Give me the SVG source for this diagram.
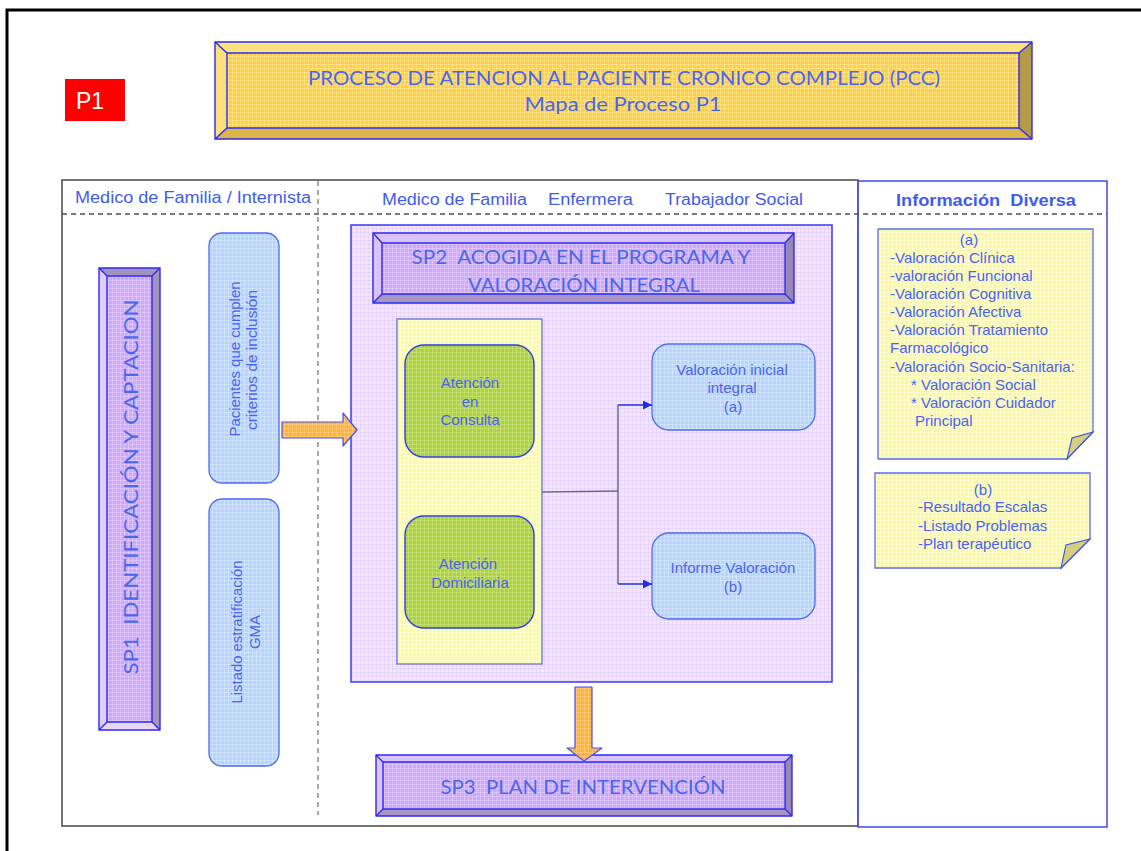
<svg xmlns="http://www.w3.org/2000/svg" width="1141" height="851" viewBox="0 0 1141 851">
  <defs>
    <!-- fine grid texture used on filled shapes -->
    <pattern id="gGold" width="4" height="4" patternUnits="userSpaceOnUse">
      <rect width="4" height="4" fill="#FFCF45"/>
      <path d="M0 0.5H4M0.5 0V4" stroke="#FFF2B0" stroke-opacity="0.45" stroke-width="1"/>
    </pattern>
    <pattern id="gLav" width="4" height="4" patternUnits="userSpaceOnUse">
      <rect width="4" height="4" fill="#F3E6FF"/>
      <path d="M0 0.5H4M0.5 0V4" stroke="#E2CCFA" stroke-opacity="0.6" stroke-width="1"/>
    </pattern>
    <pattern id="gPurple" width="4" height="4" patternUnits="userSpaceOnUse">
      <rect width="4" height="4" fill="#CFA8F8"/>
      <path d="M0 0.5H4M0.5 0V4" stroke="#E6D2FC" stroke-opacity="0.55" stroke-width="1"/>
    </pattern>
    <pattern id="gBlue" width="4" height="4" patternUnits="userSpaceOnUse">
      <rect width="4" height="4" fill="#B5D5FF"/>
      <path d="M0 0.5H4M0.5 0V4" stroke="#DCEBFF" stroke-opacity="0.55" stroke-width="1"/>
    </pattern>
    <pattern id="gGreen" width="4" height="4" patternUnits="userSpaceOnUse">
      <rect width="4" height="4" fill="#AED33E"/>
      <path d="M0 0.5H4M0.5 0V4" stroke="#D2E890" stroke-opacity="0.5" stroke-width="1"/>
    </pattern>
    <pattern id="gYellow" width="4" height="4" patternUnits="userSpaceOnUse">
      <rect width="4" height="4" fill="#FAFAA8"/>
      <path d="M0 0.5H4M0.5 0V4" stroke="#FFFFD8" stroke-opacity="0.6" stroke-width="1"/>
    </pattern>
    <pattern id="gNote" width="4" height="4" patternUnits="userSpaceOnUse">
      <rect width="4" height="4" fill="#FBF7A6"/>
      <path d="M0 0.5H4M0.5 0V4" stroke="#FFFFDA" stroke-opacity="0.6" stroke-width="1"/>
    </pattern>
    <pattern id="gOrange" width="4" height="4" patternUnits="userSpaceOnUse">
      <rect width="4" height="4" fill="#FFB13D"/>
      <path d="M0 0.5H4M0.5 0V4" stroke="#FFD690" stroke-opacity="0.5" stroke-width="1"/>
    </pattern>
    <marker id="arr" viewBox="0 0 10 10" refX="10" refY="5" markerWidth="9" markerHeight="9" markerUnits="userSpaceOnUse" orient="auto">
      <path d="M0 0L10 5L0 10z" fill="#1E2EE8"/>
    </marker>
    <style>
      text { white-space: pre; }
      .bv { stroke: #2B2BF0; stroke-width: 1.4; stroke-linejoin: round; }
      .cal { font-family: Lato, "Open Sans", "Liberation Sans", sans-serif; fill: #4A66EE; }
      .ar { font-family: "Liberation Sans", Arial, sans-serif; fill: #4A64EE; font-size: 15px; }
      .hd { font-family: "Liberation Sans", Arial, sans-serif; fill: #3F5CF0; font-size: 16px; }
      .box { stroke: #4F6BEE; stroke-width: 1.3; }
      .note { stroke: #5C6FEA; stroke-width: 1.3; }
      .fold { fill: #D6CF7E; stroke: #3C4FE6; stroke-width: 1.1; }
    </style>
  </defs>

  <rect width="1141" height="851" fill="#FFFFFF"/>

  <!-- outer page frame -->
  <path d="M7 853V10H1143" fill="none" stroke="#000" stroke-width="3"/>

  <!-- P1 badge -->
  <g id="badge-p1">
    <rect x="65" y="79" width="60" height="42" fill="#FF0000"/>
    <text x="76" y="109" font-family="'Liberation Sans', Arial, sans-serif" font-size="23" fill="#FFFFFF">P1</text>
  </g>

  <!-- title banner -->
  <g id="title">
    <rect x="215" y="42" width="817" height="97" fill="url(#gGold)"/>
    <path d="M215 42H1032L1019 53H227z" fill="#FFE27F"/>
    <path d="M215 42L227 53V128L215 139z" fill="#FFDF7A"/>
    <path d="M1032 42V139L1019 128V53z" fill="#B59A48"/>
    <path d="M215 139L227 128H1019L1032 139z" fill="#DDB448"/>
    <rect x="215" y="42" width="817" height="97" fill="none" class="bv"/>
    <rect x="227" y="53" width="792" height="75" fill="none" class="bv"/>
    <path d="M215 42L227 53M1032 42L1019 53M215 139L227 128M1032 139L1019 128" class="bv"/>
    <text class="cal" x="624" y="85" font-size="19" text-anchor="middle" textLength="632" lengthAdjust="spacingAndGlyphs">PROCESO DE ATENCION AL PACIENTE CRONICO COMPLEJO (PCC)</text>
    <text class="cal" x="623" y="111" font-size="19" text-anchor="middle" textLength="197" lengthAdjust="spacingAndGlyphs">Mapa de Proceso P1</text>
  </g>

  <!-- swimlane frame -->
  <g id="lanes">
    <rect x="62" y="180" width="796" height="646" fill="none" stroke="#505050" stroke-width="1.6"/>
    <rect x="858" y="181" width="249" height="646" fill="none" stroke="#4A55F0" stroke-width="1.6"/>
    <path d="M62 214H1107" stroke="#505050" stroke-width="1.4" stroke-dasharray="5 4"/>
    <path d="M318 181V815" stroke="#A8A8A8" stroke-width="2" stroke-dasharray="5 4"/>
    <text class="hd" x="75" y="203" textLength="236" lengthAdjust="spacingAndGlyphs">Medico de Familia / Internista</text>
    <text class="hd" x="382" y="205" textLength="145" lengthAdjust="spacingAndGlyphs">Medico de Familia</text>
    <text class="hd" x="548" y="205" textLength="85" lengthAdjust="spacingAndGlyphs">Enfermera</text>
    <text class="hd" x="665" y="205" textLength="138" lengthAdjust="spacingAndGlyphs">Trabajador Social</text>
    <text class="hd" x="986" y="206" font-size="15" font-weight="bold" text-anchor="middle" textLength="180" lengthAdjust="spacingAndGlyphs">Información  Diversa</text>
  </g>

  <!-- SP1 vertical bar -->
  <g id="sp1">
    <rect x="99" y="268" width="61" height="462" fill="url(#gPurple)"/>
    <path d="M99 268H160L152 276H107z" fill="#A493BD"/>
    <path d="M160 268V730L152 722V276z" fill="#A493BD"/>
    <path d="M99 268L107 276V722L99 730z" fill="#E2CCFB"/>
    <path d="M99 730L107 722H152L160 730z" fill="#E8D6FC"/>
    <rect x="99" y="268" width="61" height="462" fill="none" class="bv"/>
    <rect x="107" y="276" width="45" height="446" fill="none" class="bv"/>
    <path d="M99 268L107 276M160 268L152 276M99 730L107 722M160 730L152 722" class="bv"/>
    <text class="cal" font-size="20" text-anchor="middle" textLength="375" lengthAdjust="spacingAndGlyphs" transform="translate(138 487) rotate(-90)">SP1  IDENTIFICACIÓN Y CAPTACION</text>
  </g>

  <!-- inclusion criteria -->
  <g id="criterios">
    <rect x="209" y="233" width="70" height="250" rx="13" fill="url(#gBlue)" class="box"/>
    <g class="ar" text-anchor="middle">
      <text transform="translate(240 359) rotate(-90)" textLength="155" lengthAdjust="spacingAndGlyphs">Pacientes que cumplen</text>
      <text transform="translate(257 360) rotate(-90)" textLength="140" lengthAdjust="spacingAndGlyphs">criterios de inclusión</text>
    </g>
  </g>

  <!-- GMA stratification list -->
  <g id="listado-gma">
    <rect x="209" y="499" width="70" height="267" rx="13" fill="url(#gBlue)" class="box"/>
    <g class="ar" text-anchor="middle">
      <text transform="translate(242 632) rotate(-90)" textLength="143" lengthAdjust="spacingAndGlyphs">Listado estratificación</text>
      <text transform="translate(260 632) rotate(-90)">GMA</text>
    </g>
  </g>

  <!-- SP2 container -->
  <g id="sp2">
    <rect x="351" y="225" width="481" height="457" fill="url(#gLav)" stroke="#3A3AF0" stroke-width="1.5"/>
    <rect x="373" y="233" width="421" height="70" fill="url(#gPurple)"/>
    <path d="M373 233H794L785 243H382z" fill="#DCC2FA"/>
    <path d="M373 233L382 243V294L373 303z" fill="#DCC2FA"/>
    <path d="M794 233V303L785 294V243z" fill="#9A86B6"/>
    <path d="M373 303L382 294H785L794 303z" fill="#A996C6"/>
    <rect x="373" y="233" width="421" height="70" fill="none" class="bv"/>
    <rect x="382" y="243" width="403" height="51" fill="none" class="bv"/>
    <path d="M373 233L382 243M794 233L785 243M373 303L382 294M794 303L785 294" class="bv"/>
    <text class="cal" x="581" y="264" font-size="20" text-anchor="middle" textLength="339" lengthAdjust="spacingAndGlyphs">SP2  ACOGIDA EN EL PROGRAMA Y</text>
    <text class="cal" x="584" y="292" font-size="20" text-anchor="middle" textLength="232" lengthAdjust="spacingAndGlyphs">VALORACIÓN INTEGRAL</text>
  </g>

  <!-- care settings panel -->
  <g id="panel-atencion">
    <rect x="397" y="319" width="145" height="345" fill="url(#gYellow)" stroke="#6272E8" stroke-width="1.3"/>
  </g>

  <g id="atencion-consulta">
    <rect x="405" y="345" width="129" height="112" rx="19" fill="url(#gGreen)" stroke="#2E3FE4" stroke-width="1.4"/>
    <g class="ar" text-anchor="middle">
      <text x="470" y="388">Atención</text>
      <text x="470" y="407">en</text>
      <text x="470" y="425">Consulta</text>
    </g>
  </g>

  <g id="atencion-domiciliaria">
    <rect x="405" y="516" width="129" height="112" rx="19" fill="url(#gGreen)" stroke="#2E3FE4" stroke-width="1.4"/>
    <g class="ar" text-anchor="middle">
      <text x="468" y="569">Atención</text>
      <text x="470" y="588">Domiciliaria</text>
    </g>
  </g>

  <g id="valoracion-inicial">
    <rect x="652" y="344" width="163" height="86" rx="17" fill="url(#gBlue)" class="box"/>
    <g class="ar" text-anchor="middle">
      <text x="732" y="375">Valoración inicial</text>
      <text x="732" y="393">integral</text>
      <text x="733" y="412">(a)</text>
    </g>
  </g>

  <g id="informe-valoracion">
    <rect x="652" y="533" width="163" height="86" rx="17" fill="url(#gBlue)" class="box"/>
    <g class="ar" text-anchor="middle">
      <text x="733" y="573">Informe Valoración</text>
      <text x="733" y="592">(b)</text>
    </g>
  </g>

  <!-- SP3 -->
  <g id="sp3">
    <rect x="376" y="755" width="416" height="61" fill="url(#gPurple)"/>
    <path d="M376 755H792L785 762H383z" fill="#DCC2FA"/>
    <path d="M376 755L383 762V809L376 816z" fill="#DCC2FA"/>
    <path d="M792 755V816L785 809V762z" fill="#9A86B6"/>
    <path d="M376 816L383 809H785L792 816z" fill="#A996C6"/>
    <rect x="376" y="755" width="416" height="61" fill="none" class="bv"/>
    <rect x="383" y="762" width="402" height="47" fill="none" class="bv"/>
    <path d="M376 755L383 762M792 755L785 762M376 816L383 809M792 816L785 809" class="bv"/>
    <text class="cal" x="583" y="794" font-size="20" text-anchor="middle" textLength="285" lengthAdjust="spacingAndGlyphs">SP3  PLAN DE INTERVENCIÓN</text>
  </g>

  <!-- information notes -->
  <g id="nota-a">
    <path d="M878 229H1093V432L1067 459H878z" fill="url(#gNote)" class="note"/>
    <path d="M1093 432L1072 438L1067 459z" class="fold"/>
    <g class="ar">
      <text x="969" y="245" text-anchor="middle">(a)</text>
      <text x="890" y="263">-Valoración Clínica</text>
      <text x="890" y="281">-valoración Funcional</text>
      <text x="890" y="299">-Valoración Cognitiva</text>
      <text x="890" y="317">-Valoración Afectiva</text>
      <text x="890" y="335">-Valoración Tratamiento</text>
      <text x="890" y="353">Farmacológico</text>
      <text x="890" y="372">-Valoración Socio-Sanitaria:</text>
      <text x="911" y="390">* Valoración Social</text>
      <text x="911" y="408">* Valoración Cuidador</text>
      <text x="915" y="426">Principal</text>
    </g>
  </g>

  <g id="nota-b">
    <path d="M875 473H1090V539L1061 568H875z" fill="url(#gNote)" class="note"/>
    <path d="M1090 539L1066 545L1061 568z" class="fold"/>
    <g class="ar">
      <text x="983" y="495" text-anchor="middle">(b)</text>
      <text x="918" y="512">-Resultado Escalas</text>
      <text x="918" y="531">-Listado Problemas</text>
      <text x="918" y="549">-Plan terapéutico</text>
    </g>
  </g>

  <!-- connectors -->
  <g id="connectors">
    <path d="M282 422H343V413L357 430L343 446V438H282z" fill="url(#gOrange)" stroke="#4A50E8" stroke-width="1.2" stroke-linejoin="round"/>
    <path d="M575 687H592V748H602L584 761L567 748H575z" fill="url(#gOrange)" stroke="#4A50E8" stroke-width="1.2" stroke-linejoin="round"/>
    <path d="M542 492L618 491" fill="none" stroke="#6E6E7E" stroke-width="1.3"/>
    <path d="M618 405V584" fill="none" stroke="#5A5A8C" stroke-width="1.3"/>
    <path d="M618 405H652" fill="none" stroke="#1E2EE8" stroke-width="1.4" marker-end="url(#arr)"/>
    <path d="M618 584H652" fill="none" stroke="#1E2EE8" stroke-width="1.4" marker-end="url(#arr)"/>
  </g>
</svg>
